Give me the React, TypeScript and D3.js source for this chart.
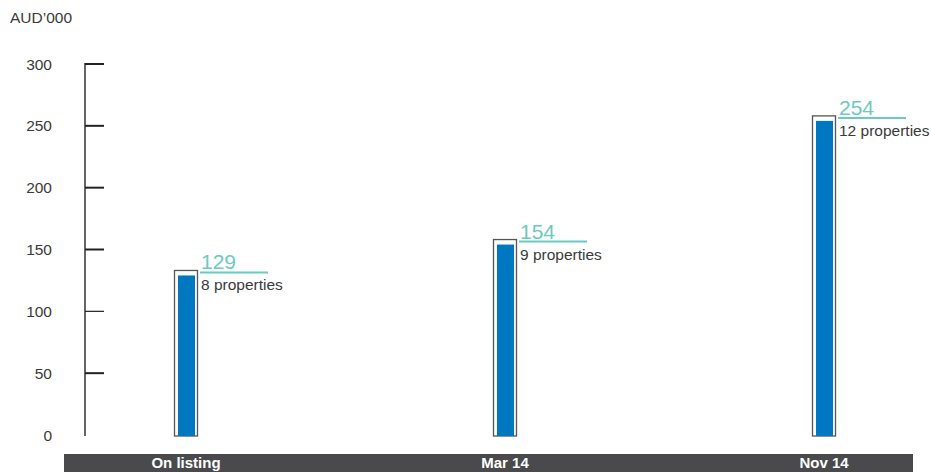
import React from "react";
import * as d3 from "d3";

const categories = ["On listing", "Mar 14", "Nov 14"];
const values = [129, 154, 254];
const propertyLabels = ["8 properties", "9 properties", "12 properties"];
const yTicks = [0, 50, 100, 150, 200, 250, 300];

const W = 931;
const H = 472;

export default function App() {
  const y = d3.scaleLinear().domain([0, 300]).range([435, 64]);
  const x = d3.scalePoint<string>().domain(categories).range([186, 824]);
  const font = "'Liberation Sans', Arial, Helvetica, sans-serif";
  return (
    <svg width={W} height={H} style={{ position: "absolute", left: 0, top: 0 }} fontFamily={font}>
      <rect x={0} y={0} width={W} height={H} fill="#fff" />
      <text x={10} y={23} fontSize={15.5} fill="#3a3a3a">AUD’000</text>
      <line x1={85} x2={85} y1={y(300) - 1} y2={436} stroke="#333" strokeWidth={1.5} />
      {yTicks.map((t) => (
        <g key={t}>
          {t > 0 && <line x1={85} x2={104} y1={y(t)} y2={y(t)} stroke="#222" strokeWidth={t === 100 ? 1.2 : 2} />}
          <text x={52} y={y(t) + 5.5} fontSize={15.5} fill="#3a3a3a" textAnchor="end">{t}</text>
        </g>
      ))}
      {categories.map((c, i) => {
        const cx = x(c)!;
        const v = values[i];
        const top = y(v);
        return (
          <g key={c}>
            <rect x={cx - 11.5} y={top - 5} width={23} height={436 - (top - 5)} fill="none" stroke="#555" strokeWidth={1.3} />
            <rect x={cx - 8} y={top} width={17} height={436 - top} fill="#0078c1" />
            <line x1={cx + 14} x2={cx + 82} y1={top - 3} y2={top - 3} stroke="#6ccabe" strokeWidth={2} />
            <text x={cx + 15} y={top - 6} fontSize={21} fill="#6ccabe">{v}</text>
            <text x={cx + 15} y={top + 15} fontSize={15.5} fill="#3a3a3a">{propertyLabels[i]}</text>
          </g>
        );
      })}
      <rect x={64} y={454} width={849} height={18} fill="#4a4a4c" />
      {categories.map((c) => (
        <text key={c} x={x(c)!} y={468} fontSize={15} fontWeight="bold" fill="#fff" textAnchor="middle">{c}</text>
      ))}
    </svg>
  );
}
